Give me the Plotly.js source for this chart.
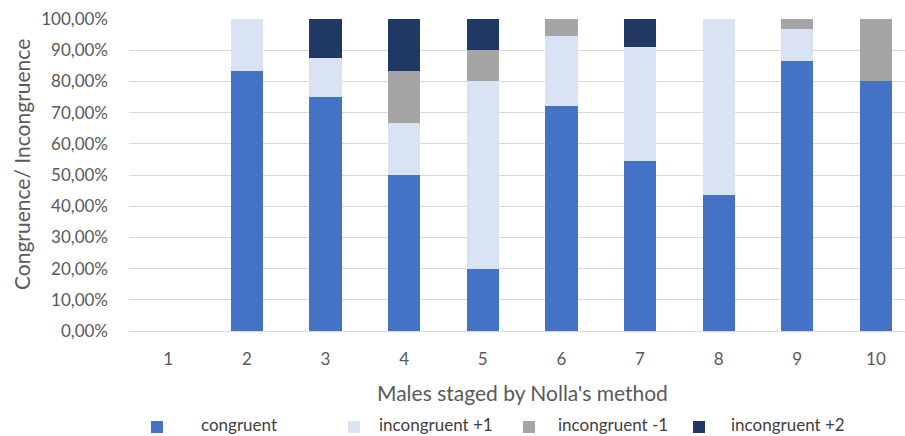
<!DOCTYPE html>
<html>
<head>
<meta charset="utf-8">
<script src="https://cdn.plot.ly/plotly-3.0.1.min.js"></script>
<style>
  html, body { margin: 0; padding: 0; background: #ffffff; }
  #chart { width: 905px; height: 436px; }
</style>
</head>
<body>
<div id="chart"></div>
<script>
// Stages (Nolla's method) on the x axis
const stages = ['1', '2', '3', '4', '5', '6', '7', '8', '9', '10'];

// Share of each outcome per stage, in percent
const congruent     = [0, 83.33, 75.00, 50.00, 20.00, 72.22, 54.55, 43.75, 86.67, 80.00];
const incongruentP1 = [0, 16.67, 12.50, 16.67, 60.00, 22.22, 36.36, 56.25, 10.00,  0.00];
const incongruentM1 = [0,  0.00,  0.00, 16.67, 10.00,  5.56,  0.00,  0.00,  3.33, 20.00];
const incongruentP2 = [0,  0.00, 12.50, 16.67, 10.00,  0.00,  9.09,  0.00,  0.00,  0.00];

const seriesNames = ['congruent', 'incongruent +1', 'incongruent -1', 'incongruent +2'];
const seriesColors = ['#4472C4', '#DAE3F3', '#A5A5A5', '#203864'];
const seriesValues = [congruent, incongruentP1, incongruentM1, incongruentP2];

const yTicks = [0, 10, 20, 30, 40, 50, 60, 70, 80, 90, 100];
const yTickText = yTicks.map(v => v.toFixed(2).replace('.', ',') + '%');

const FONT = 'Lato, "Open Sans", sans-serif';
const TEXT = '#595959';

// plot frame in pixels, used to place the legend row in paper units
const PLOT = { left: 129, top: 19, width: 776, height: 312 };
const toPaperX = px => (px - PLOT.left) / PLOT.width;
const toPaperY = py => (PLOT.top + PLOT.height - py) / PLOT.height;

const traces = seriesValues.map((vals, i) => ({
  type: 'bar',
  name: seriesNames[i],
  x: stages,
  y: vals,
  marker: { color: seriesColors[i], line: { width: 0 } },
  hoverinfo: 'x+y+name'
}));

// legend row: swatch centre and label start for each series
const legendSwatchX = [157, 354, 529, 699];
const legendLabelX = [200, 378, 557, 730];
const legendSwatchY = 427;
const legendLabelY = 424;
const SW = 6;

const legendShapes = seriesNames.map((_, i) => ({
  type: 'rect',
  xref: 'paper', yref: 'paper',
  x0: toPaperX(legendSwatchX[i] - SW), x1: toPaperX(legendSwatchX[i] + SW),
  y0: toPaperY(legendSwatchY + SW), y1: toPaperY(legendSwatchY - SW),
  fillcolor: seriesColors[i],
  line: { width: 0 }
}));

const legendLabels = seriesNames.map((name, i) => ({
  xref: 'paper', yref: 'paper',
  x: toPaperX(legendLabelX[i]), xanchor: 'left',
  y: toPaperY(legendLabelY), yanchor: 'middle',
  showarrow: false,
  borderpad: 0,
  text: name,
  font: { family: FONT, size: 17, color: '#404040' }
}));

const layout = {
  width: 905,
  height: 436,
  barmode: 'stack',
  bargap: 0.59,
  paper_bgcolor: '#ffffff',
  plot_bgcolor: '#ffffff',
  font: { family: FONT, color: TEXT, size: 17 },
  margin: { l: PLOT.left, r: 0, t: PLOT.top, b: 105, pad: 0 },
  showlegend: false,
  xaxis: {
    type: 'category',
    range: [-0.5, 9.37],
    showgrid: false,
    showline: false,
    zeroline: false,
    ticks: '',
    ticklabelstandoff: 16,
    tickfont: { family: FONT, size: 17, color: TEXT }
  },
  yaxis: {
    range: [0, 100],
    tickvals: yTicks,
    ticktext: yTickText,
    showgrid: true,
    gridcolor: '#D9D9D9',
    gridwidth: 1,
    zeroline: true,
    zerolinecolor: '#D9D9D9',
    zerolinewidth: 1,
    showline: false,
    ticks: '',
    ticklabelstandoff: 20,
    tickfont: { family: FONT, size: 17, color: TEXT }
  },
  shapes: legendShapes,
  annotations: [
    {
      xref: 'x', yref: 'paper',
      x: 4.5, y: toPaperY(392), yanchor: 'middle',
      showarrow: false,
      text: "Males staged by Nolla's method",
      font: { family: FONT, size: 21, color: TEXT }
    },
    {
      xref: 'paper', yref: 'paper',
      x: toPaperX(21), xanchor: 'center',
      y: toPaperY(165), yanchor: 'middle',
      textangle: -90,
      showarrow: false,
      text: 'Congruence/ Incongruence',
      font: { family: FONT, size: 21, color: TEXT }
    }
  ].concat(legendLabels)
};

Plotly.newPlot('chart', traces, layout, { displayModeBar: false, staticPlot: true });
</script>
</body>
</html>
